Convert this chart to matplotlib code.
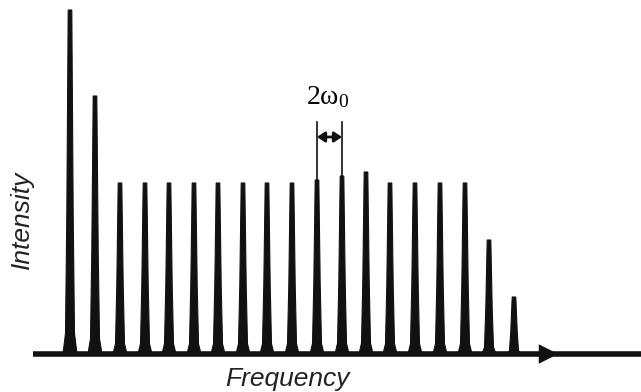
import numpy as np
import matplotlib.pyplot as plt

# peak positions (frequency axis, px-like units) and heights (intensity)
freqs = [70, 95, 120, 145, 169, 194, 218, 243, 267, 292, 317, 342, 366, 390, 415, 440, 465, 489, 514]
heights = [344, 258, 171, 171, 171, 171, 171, 171, 171, 171, 174, 178, 182, 171, 171, 171, 171, 114, 57]

fig = plt.figure(figsize=(6.41, 3.92), dpi=100)
ax = fig.add_axes([0, 0, 1, 1])
ax.set_xlim(0, 641)
ax.set_ylim(-38, 354)
ax.axis('off')

# peak profile (relative shape)
dx = np.array([-7, -4.5, -3.2, -1.8, 1.8, 3.2, 4.5, 7])
rel = np.array([0, 0.06, 0.4, 1, 1, 0.4, 0.06, 0])
for f, h in zip(freqs, heights):
    ax.fill(f + dx, h * rel, color='#111111', lw=0.8, ec='#111111')

# frequency axis with arrow
ax.plot([33, 641], [0, 0], color='#111111', lw=4, solid_capstyle='butt')
ax.annotate('', xy=(561, 0), xytext=(540, 0),
            arrowprops=dict(arrowstyle='-|>,head_length=1.4,head_width=0.7',
                            color='#111111', lw=0))

# 2w0 spacing marker
y_mark = 354 - 137
ax.plot([freqs[10], freqs[10]], [heights[10] - 5, 354 - 122], color='#111111', lw=1.2)
ax.plot([freqs[11], freqs[11]], [heights[11] - 5, 354 - 122], color='#111111', lw=1.2)
ax.annotate('', xy=(freqs[10], y_mark), xytext=(freqs[11], y_mark),
            arrowprops=dict(arrowstyle='<|-|>,head_length=0.45,head_width=0.3',
                            color='#111111', lw=2, shrinkA=0, shrinkB=0))
ax.text(328, 354 - 97, r'2$\mathregular{\omega_0}$', family='Liberation Serif',
        fontsize=20, ha='center', va='center')

ax.text(22, 354 - 220, 'Intensity', family='Liberation Sans', style='italic',
        fontsize=19, rotation=90, ha='center', va='center', color='#222222')
ax.text(287, 354 - 379, 'Frequency', family='Liberation Sans', style='italic',
        fontsize=19, ha='center', va='center', color='#222222')

fig.savefig('out.png', dpi=100)
